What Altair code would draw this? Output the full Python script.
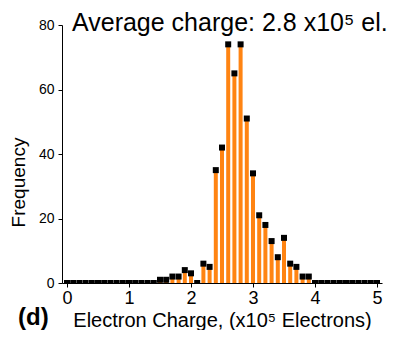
import altair as alt
import pandas as pd

charge = [0.0, 0.1, 0.2, 0.3, 0.4, 0.5, 0.6, 0.7, 0.8, 0.9,
          1.0, 1.1, 1.2, 1.3, 1.4, 1.5, 1.6, 1.7, 1.8, 1.9,
          2.0, 2.1, 2.2, 2.3, 2.4, 2.5, 2.6, 2.7, 2.8, 2.9,
          3.0, 3.1, 3.2, 3.3, 3.4, 3.5, 3.6, 3.7, 3.8, 3.9,
          4.0, 4.1, 4.2, 4.3, 4.4, 4.5, 4.6, 4.7, 4.8, 4.9, 5.0]
freq = [0, 0, 0, 0, 0, 0, 0, 0, 0, 0,
        0, 0, 0, 0, 0, 1, 1, 2, 2, 4,
        3, 0, 6, 5, 35, 42, 74, 65, 74, 51,
        34, 21, 18, 13, 8, 14, 6, 5, 2, 2,
        0, 0, 0, 0, 0, 0, 0, 0, 0, 0, 0]

x_ticks = [0, 0.5, 1, 1.5, 2, 2.5, 3, 3.5, 4, 4.5, 5]
y_ticks = [0, 10, 20, 30, 40, 50, 60, 70, 80]

title_text = ["Average charge: 2.8 x10\u2075 el."]
panel_text = ["(d)"]

FONT = "Liberation Sans"

df = pd.DataFrame({"charge": charge, "freq": freq})

xenc = alt.X("charge:Q", scale=alt.Scale(domain=[0, 5], nice=False),
             axis=alt.Axis(values=x_ticks,
                           labelExpr="datum.value % 1 === 0 ? format(datum.value, 'd') : ''",
                           title="Electron Charge, (x10\u2075 Electrons)",
                           titleFontSize=20, titleFontWeight="normal",
                           titleBaseline="alphabetic", titleY=43,
                           labelFontSize=18, labelPadding=2,
                           tickSize=4, grid=False, labelFlush=False))
yenc = alt.Y("freq:Q", scale=alt.Scale(domain=[0, 80], nice=False),
             axis=alt.Axis(values=y_ticks,
                           labelExpr="datum.value % 20 === 0 ? datum.label : ''",
                           title="Frequency", titleFontSize=19,
                           titleFontWeight="normal",
                           titleAngle=-90, titleBaseline="alphabetic",
                           titleAlign="center",
                           titleX=-38, titleY=157,
                           labelFontSize=14, labelPadding=4,
                           tickSize=4, grid=False, labelFlush=False))

base = alt.Chart(df)
bars = base.mark_bar(size=4, color="#FF8412", clip=True).encode(x=xenc, y=yenc)
pts = base.mark_square(size=36, color="black", opacity=1, clip=True).encode(x="charge:Q", y="freq:Q")

title_mark = alt.Chart(pd.DataFrame({"t": title_text})).mark_text(
    align="left", baseline="alphabetic", fontSize=25, font=FONT, color="black"
).encode(text="t:N", x=alt.value(10), y=alt.value(6))

panel_mark = alt.Chart(pd.DataFrame({"t": panel_text})).mark_text(
    align="left", baseline="alphabetic", fontSize=24, fontWeight="bold", font=FONT, color="black"
).encode(text="t:N", x=alt.value(-44), y=alt.value(300))

chart = alt.layer(bars, pts, title_mark, panel_mark).properties(
    width=320, height=258,
    autosize=alt.AutoSizeParams(type="none"),
    padding={"left": 54, "top": 17, "right": 27, "bottom": 47},
).configure_view(stroke=None).configure_axis(
    domainColor="black", tickColor="black", labelColor="black", titleColor="black",
    labelFont=FONT, titleFont=FONT, domainWidth=1, tickWidth=1
)

chart.save("out.html", embed_options={"renderer": "svg", "actions": False})
